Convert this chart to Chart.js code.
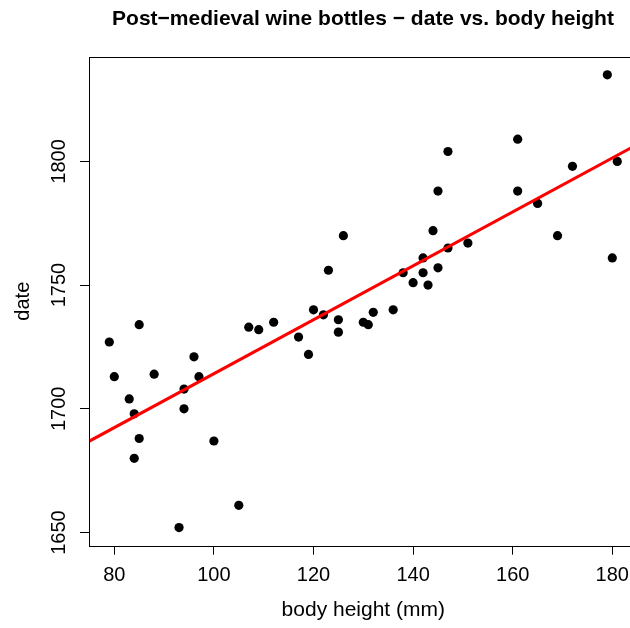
<!DOCTYPE html>
<html>
<head>
<meta charset="utf-8">
<title>Post-medieval wine bottles</title>
<script src="https://cdn.jsdelivr.net/npm/chart.js@4.4.1/dist/chart.umd.min.js"></script>
<style>
  html, body { margin: 0; padding: 0; background: #fff; overflow: hidden; }
  #wrap { width: 630px; height: 628px; overflow: hidden; }
  canvas { display: block; }
</style>
</head>
<body>
<div id="wrap"><canvas id="chart" width="726" height="628"></canvas></div>
<script>
// body height (mm) and date of each bottle
const heights = [79, 80, 83, 84, 84, 85, 85, 88, 93, 94, 94, 96, 97, 100, 105, 107, 109, 112, 117, 119,
  120, 122, 123, 125, 125, 126, 130, 131, 132, 136, 138, 140, 142, 142, 143, 144, 145, 145, 147, 147,
  151, 161, 161, 165, 169, 172, 179, 180, 181];
const dates = [1727, 1713, 1704, 1698, 1680, 1734, 1688, 1714, 1652, 1708, 1700, 1721, 1713, 1687, 1661, 1733, 1732, 1735, 1729, 1722,
  1740, 1738, 1756, 1736, 1731, 1770, 1735, 1734, 1739, 1740, 1755, 1751, 1761, 1755, 1750, 1772, 1757, 1788, 1804, 1765,
  1767, 1809, 1788, 1783, 1770, 1798, 1835, 1761, 1800];

const xTicks = [80, 100, 120, 140, 160, 180];
const yTicks = [1650, 1700, 1750, 1800];

const FONT = '"Liberation Sans", Arial, Helvetica, sans-serif';

// R style axis range: data range plus 4% each side
const pad = (arr) => {
  const lo = Math.min(...arr), hi = Math.max(...arr);
  const d = (hi - lo) * 0.04;
  return [lo - d, hi + d];
};
const [xMin, xMax] = pad(heights);
const [yMin, yMax] = pad(dates);

// least squares fit, like abline(lm(date ~ height))
const fit = (xs, ys) => {
  const n = xs.length;
  const mx = xs.reduce((a, b) => a + b, 0) / n;
  const my = ys.reduce((a, b) => a + b, 0) / n;
  let sxy = 0, sxx = 0;
  for (let i = 0; i < n; i++) {
    sxy += (xs[i] - mx) * (ys[i] - my);
    sxx += (xs[i] - mx) ** 2;
  }
  const slope = sxy / sxx;
  return { slope, intercept: my - slope * mx };
};
const lm = fit(heights, dates);

const boxPlugin = {
  id: 'box',
  afterDraw(chart) {
    const { ctx, chartArea: a } = chart;
    ctx.save();
    ctx.strokeStyle = '#000';
    ctx.lineWidth = 1;
    ctx.strokeRect(Math.round(a.left) + 0.5, Math.round(a.top) + 0.5,
      Math.round(a.right) - Math.round(a.left), Math.round(a.bottom) - Math.round(a.top));
    ctx.restore();
  }
};

new Chart(document.getElementById('chart'), {
  type: 'scatter',
  data: {
    datasets: [
      {
        type: 'line',
        data: [xMin, xMax].map(x => ({ x, y: lm.intercept + lm.slope * x })),
        borderColor: '#ff0000',
        borderWidth: 3,
        pointRadius: 0,
        order: 0,
      },
      {
        data: heights.map((h, i) => ({ x: h, y: dates[i] })),
        backgroundColor: '#000',
        borderWidth: 0,
        pointRadius: 4.6,
        order: 1,
      },
    ],
  },
  options: {
    responsive: false,
    animation: false,
    events: [],
    layout: { padding: 0 },
    plugins: {
      legend: { display: false },
      tooltip: { enabled: false },
      title: {
        display: true,
        text: 'Post\u2212medieval wine bottles \u2212 date vs. body height',
        color: '#000',
        font: { family: FONT, size: 21, weight: 'bold' },
        padding: { top: 6.4, bottom: 25.1 },
      },
    },
    scales: {
      x: {
        type: 'linear',
        min: xMin,
        max: xMax,
        afterBuildTicks: (s) => { s.ticks = xTicks.map(v => ({ value: v })); },
        afterFit: (s) => { s.height = 628 - 545.7; },
        border: { display: false },
        grid: { drawOnChartArea: false, drawTicks: true, tickLength: 9, color: '#000' },
        ticks: { color: '#000', padding: 8.3, font: { family: FONT, size: 20 }, maxRotation: 0,
          callback: (v) => String(v) },
        title: {
          display: true,
          text: 'body height (mm)',
          color: '#000',
          font: { family: FONT, size: 21 },
          padding: { top: 0, bottom: 5.5 },
        },
      },
      y: {
        type: 'linear',
        min: yMin,
        max: yMax,
        afterBuildTicks: (s) => { s.ticks = yTicks.map(v => ({ value: v })); },
        afterFit: (s) => { s.width = 89; },
        border: { display: false },
        grid: { drawOnChartArea: false, drawTicks: true, tickLength: 9, color: '#000' },
        ticks: {
          color: '#000',
          padding: -2,
          minRotation: 90,
          maxRotation: 90,
          crossAlign: 'center',
          font: { family: FONT, size: 20 },
          callback: (v) => String(v),
        },
        title: {
          display: true,
          text: 'date',
          color: '#000',
          font: { family: FONT, size: 20 },
          padding: { top: 11.9, bottom: 0 },
        },
      },
      // empty right margin so the title centres over the plot like R's
      rightMargin: {
        type: 'linear',
        position: 'right',
        display: true,
        afterFit: (s) => { s.width = 726 - 637.6; },
        border: { display: false },
        grid: { display: false },
        ticks: { display: false },
      },
    },
  },
  plugins: [boxPlugin],
});
</script>
</body>
</html>
